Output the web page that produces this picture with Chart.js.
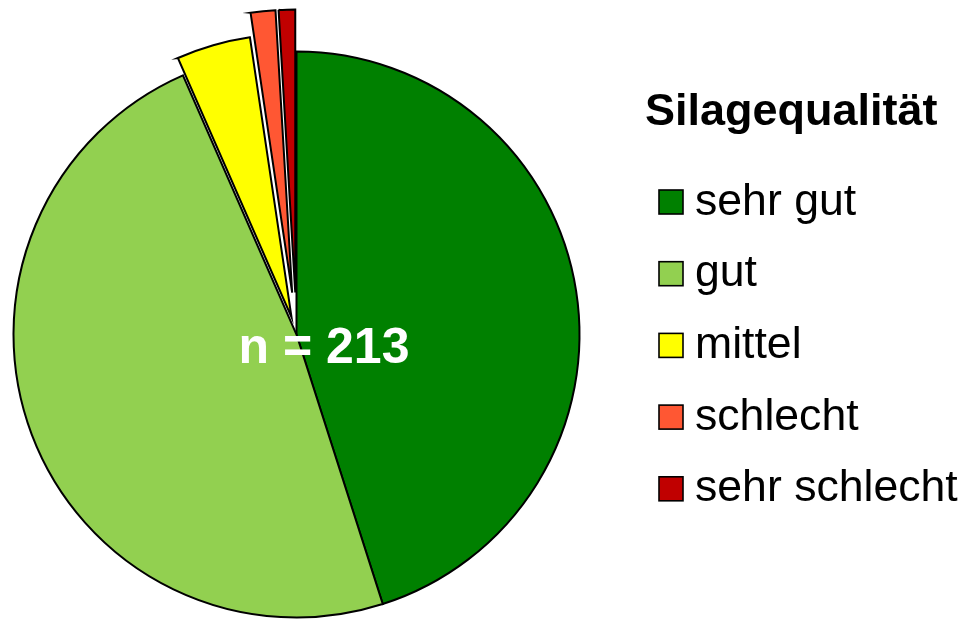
<!DOCTYPE html>
<html><head><meta charset="utf-8">
<script src="https://cdn.jsdelivr.net/npm/chart.js@4/dist/chart.umd.min.js"></script>
<style>html,body{margin:0;padding:0;background:#fff;} canvas{display:block;}</style>
</head><body>
<canvas id="c" width="967" height="619"></canvas>
<script>
// ---- data ----
const categories = ['sehr gut', 'gut', 'mittel', 'schlecht', 'sehr schlecht'];
const counts = [96, 103, 9, 3, 2];
const legendTitle = 'Silagequalität';

// ---- style ----
const colors = ['#008000', '#92D050', '#FFFF00', '#FF5733', '#C00000'];
const explode = [0, 0, 18, 42, 42]; // px the slice is pulled out
const FONT = '"Liberation Sans", Arial, Helvetica, sans-serif';

const explodePlugin = {
  id: 'explodeSlices',
  afterDatasetUpdate(chart, args) {
    const meta = chart.getDatasetMeta(args.index);
    meta.data.forEach((arc, i) => {
      const t = explode[i] || 0;
      if (!t) return;
      const mid = (arc.startAngle + arc.endAngle) / 2;
      arc.x += t * Math.cos(mid);
      arc.y += t * Math.sin(mid);
    });
  }
};

const textPlugin = {
  id: 'texts',
  afterDraw(chart) {
    const ctx = chart.ctx;
    const ca = chart.chartArea;
    const cx = (ca.left + ca.right) / 2, cy = (ca.top + ca.bottom) / 2;
    const total = counts.reduce((a, b) => a + b, 0);
    ctx.save();
    ctx.fillStyle = '#ffffff';
    ctx.font = 'bold 50px ' + FONT;
    ctx.textAlign = 'center';
    ctx.textBaseline = 'alphabetic';
    ctx.fillText('n = ' + total, cx + 27.5, cy + 28.5);

    // legend
    ctx.fillStyle = '#000';
    ctx.textAlign = 'left';
    ctx.font = 'bold 45px ' + FONT;
    ctx.fillText(legendTitle, 645, 125);
    ctx.font = '44.6px ' + FONT;
    chart.data.labels.forEach((lab, i) => {
      const base = 214.5 + i * 71.7;
      ctx.fillStyle = chart.data.datasets[0].backgroundColor[i];
      ctx.fillRect(659, base - 24.5, 24, 24);
      ctx.lineWidth = 1.6;
      ctx.strokeStyle = '#000';
      ctx.strokeRect(659, base - 24.5, 24, 24);
      ctx.fillStyle = '#000';
      ctx.fillText(lab, 695, base);
    });
    ctx.restore();
  }
};

new Chart(document.getElementById('c'), {
  type: 'pie',
  data: {
    labels: categories,
    datasets: [{
      data: counts,
      backgroundColor: colors,
      borderColor: '#000000',
      borderWidth: 2,
      borderJoinStyle: 'miter',
      offset: 0,
      hoverOffset: 0
    }]
  },
  options: {
    responsive: false,
    animation: false,
    events: [],
    radius: 283,
    layout: { padding: { left: 0, right: 374, top: 50, bottom: 0 } },
    plugins: { legend: { display: false }, tooltip: { enabled: false }, title: { display: false } }
  },
  plugins: [explodePlugin, textPlugin]
});
</script>
</body></html>
